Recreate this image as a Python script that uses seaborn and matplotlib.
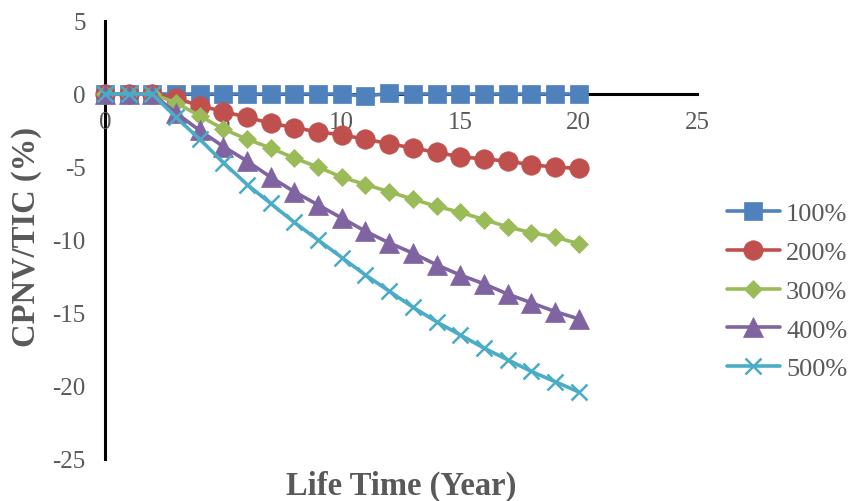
import matplotlib
matplotlib.use("Agg")
import matplotlib.pyplot as plt
import seaborn as sns
import pandas as pd
from matplotlib.lines import Line2D

# Life time in years
years = list(range(0, 21))

# CPNV/TIC (%) for each capacity scenario
cpnv_100 = [0, 0, 0, 0, 0, 0, 0, 0, 0, 0, 0, -0.15, 0.05, 0, 0, 0, 0, 0, 0, 0, 0]
cpnv_200 = [0, 0, 0, -0.3, -0.8, -1.2, -1.6, -2.0, -2.3, -2.6, -2.8,
            -3.1, -3.4, -3.7, -4.0, -4.3, -4.45, -4.6, -4.85, -5.0, -5.1]
cpnv_300 = [0, 0, 0, -0.6, -1.5, -2.4, -3.1, -3.7, -4.4, -5.0, -5.7,
            -6.2, -6.7, -7.2, -7.7, -8.1, -8.6, -9.1, -9.5, -9.8, -10.25]
cpnv_400 = [0, 0, 0, -1.3, -2.5, -3.6, -4.6, -5.7, -6.7, -7.6, -8.5,
            -9.4, -10.2, -10.9, -11.7, -12.4, -13.0, -13.7, -14.3, -14.9, -15.4]
cpnv_500 = [0, 0, 0, -1.6, -3.1, -4.7, -6.2, -7.5, -8.8, -10.0, -11.2,
            -12.4, -13.5, -14.6, -15.6, -16.5, -17.4, -18.2, -19.0, -19.7, -20.4]

series_names = ["100%", "200%", "300%", "400%", "500%"]
series_values = [cpnv_100, cpnv_200, cpnv_300, cpnv_400, cpnv_500]

x_ticks = [0, 5, 10, 15, 20, 25]
y_ticks = [-25, -20, -15, -10, -5, 0, 5]

colors = ["#4F81BD", "#C0504D", "#9BBB59", "#8064A2", "#4BACC6"]
markers = ["s", "o", "D", "^", "x"]
marker_sizes = [13.5, 14, 9.5, 14, 12]

df = pd.concat(
    [pd.DataFrame({"year": years, "value": vals, "series": name})
     for name, vals in zip(series_names, series_values)],
    ignore_index=True,
)

sns.set_theme(style="white")
plt.rcParams["font.family"] = ["Liberation Serif", "DejaVu Serif"]
plt.rcParams["axes.unicode_minus"] = False
text_color = "#595959"

fig = plt.figure(figsize=(8.53, 5.02), dpi=100)
ax = fig.add_axes([0.1231, 0.0837, 0.694, 0.8725])

handles = []
for name, color, mk, ms in zip(series_names, colors, markers, marker_sizes):
    sub = df[df["series"] == name]
    if mk == "x":
        kw = dict(markeredgecolor=color, markeredgewidth=1.8)
    else:
        kw = dict(markeredgecolor=color, markeredgewidth=0.5)
    sns.lineplot(data=sub, x="year", y="value", ax=ax, color=color,
                 marker=mk, markersize=ms, linewidth=2.6, clip_on=False,
                 legend=False, **kw)
    handles.append(Line2D([0], [0], color=color, marker=mk, markersize=ms,
                          linewidth=2.6, **kw))

ax.set_xlim(0, 25)
ax.set_ylim(-25, 5)
ax.set_xticks(x_ticks)
ax.set_yticks(y_ticks)

for side in ["top", "right"]:
    ax.spines[side].set_visible(False)
ax.spines["bottom"].set_position(("data", 0))
for side in ["left", "bottom"]:
    ax.spines[side].set_color("black")
    ax.spines[side].set_linewidth(2.2)
    ax.spines[side].set_zorder(0.5)

ax.tick_params(axis="both", length=0, labelsize=18, labelcolor=text_color)
ax.tick_params(axis="y", pad=14)
ax.tick_params(axis="x", pad=12)

ax.set_xlabel("Life Time (Year)", fontsize=23.5, fontweight="bold", color=text_color)
ax.set_ylabel("CPNV/TIC (%)", fontsize=23.5, fontweight="bold", color=text_color)
ax.xaxis.set_label_coords(0.5, -0.024)
ax.xaxis.label.set_va("top")
ax.yaxis.set_label_coords(-0.106, 0.51)

leg = fig.legend(handles, series_names, loc="center left",
                 bbox_to_anchor=(0.852, 0.418), frameon=False, fontsize=19,
                 handlelength=2.0, handletextpad=0.25, labelspacing=0.58,
                 borderaxespad=0, borderpad=0)
for t in leg.get_texts():
    t.set_color(text_color)

fig.savefig("out.png", dpi=100)
